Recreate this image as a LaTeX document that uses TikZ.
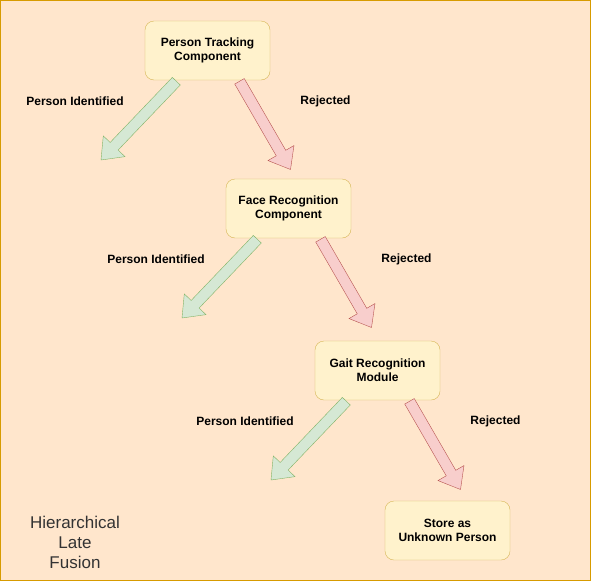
\documentclass[tikz,border=0pt]{standalone}
\usepackage{fontspec}
\setmainfont{Liberation Sans}
\usetikzlibrary{calc}
\definecolor{bgfill}{HTML}{FFE6CC}
\definecolor{bgline}{HTML}{D79B00}
\definecolor{boxfill}{HTML}{FFF2CC}
\definecolor{boxline}{HTML}{D6B656}
\definecolor{okfill}{HTML}{D5E8D4}
\definecolor{okline}{HTML}{82B366}
\definecolor{nofill}{HTML}{F8CECC}
\definecolor{noline}{HTML}{B85450}
\definecolor{titletext}{HTML}{333333}
% block arrow from tail coordinate to tip coordinate
\newcommand{\blockarrow}[3]{%
  \coordinate (h) at ($(#3)!19pt!(#2)$);
  \draw[#1] ($(#2)!5.5pt!90:(#3)$) -- ($(h)!5.5pt!-90:(#2)$) -- ($(h)!15pt!-90:(#2)$) -- (#3)
    -- ($(h)!15pt!90:(#2)$) -- ($(h)!5.5pt!90:(#2)$) -- ($(#2)!5.5pt!-90:(#3)$) -- cycle;}
\begin{document}
\begin{tikzpicture}[x=1pt, y=-1pt,
  comp/.style = {draw=boxline, fill=boxfill, rounded corners=9pt, minimum width=125pt, minimum height=59pt, align=center, font=\fontsize{12}{14}\selectfont\bfseries},
  lbl/.style = {font=\fontsize{12}{14}\selectfont\bfseries},
  ok/.style = {draw=okline, fill=okfill},
  no/.style = {draw=noline, fill=nofill}]
\useasboundingbox (0,0) rectangle (591,581);
\draw[bgline, fill=bgfill] (0.5,0.5) rectangle (590.5,580.5);
\node[comp] (track) at (207.5,50.5) {Person Tracking\\Component};
\node[comp] (face) at (288.5,208.5) {Face Recognition\\Component};
\node[comp] (gait) at (377.5,370.5) {Gait Recognition\\Module};
\node[comp] (store) at (447.5,530.5) {Store as\\Unknown Person};
\node[lbl] (id1) at (75,101) {Person Identified};
\node[lbl] (rej1) at (325.5,101) {Rejected};
\node[lbl] (id2) at (156,259) {Person Identified};
\node[lbl] (rej2) at (406.5,259) {Rejected};
\node[lbl] (id3) at (245,421) {Person Identified};
\node[lbl] (rej3) at (495.5,421) {Rejected};
\node[align=center, text=titletext, font=\fontsize{17}{20}\selectfont] (title) at (75,542) {Hierarchical\\Late\\Fusion};
\coordinate (ok1s) at (176.3,81.2);
\coordinate (ok1e) at (101,160);
\coordinate (no1s) at (239.5,81.3);
\coordinate (no1e) at (290.5,169.5);
\coordinate (ok2s) at (257.3,239.2);
\coordinate (ok2e) at (182,318);
\coordinate (no2s) at (320.5,239.3);
\coordinate (no2e) at (371.5,327.5);
\coordinate (ok3s) at (346.3,401.2);
\coordinate (ok3e) at (271,480);
\coordinate (no3s) at (409.5,401.3);
\coordinate (no3e) at (460.5,489.5);
\blockarrow{ok}{ok1s}{ok1e}
\blockarrow{no}{no1s}{no1e}
\blockarrow{ok}{ok2s}{ok2e}
\blockarrow{no}{no2s}{no2e}
\blockarrow{ok}{ok3s}{ok3e}
\blockarrow{no}{no3s}{no3e}
\end{tikzpicture}
\end{document}
